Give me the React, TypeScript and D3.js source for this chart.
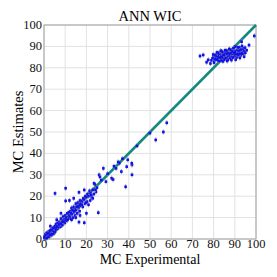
import React from "react";
import * as d3 from "d3";

const title = "ANN WIC";
const xLabel = "MC Experimental";
const yLabel = "MC Estimates";
const ticks = [0, 10, 20, 30, 40, 50, 60, 70, 80, 90, 100];
const errorHalf = 1.2;

const lowPoints: [number, number][] = [
  [0.2,0.5],[0.3,1.2],[0.5,0.3],[0.6,2.0],[0.8,1.0],[1.0,0.6],[1.0,2.5],[1.2,1.5],[1.4,0.8],[1.5,3.0],[1.7,2.2],[1.8,1.2],[2.0,2.8],[2.1,1.8],[2.3,3.5],[2.5,2.3],[2.6,1.5],[2.8,3.0],[3.0,4.0],[3.1,2.5],[3.3,3.2],[3.5,1.8],[3.6,4.5],[3.8,3.0],[4.0,2.8],[4.1,5.0],[4.3,3.8],[4.5,4.2],[4.7,2.5],[4.8,5.5],[5.0,4.0],[5.2,6.0],[5.3,3.5],[5.5,5.0],[5.7,7.0],[5.8,4.3],[6.0,6.2],[6.2,5.0],[6.4,7.5],[6.5,4.8],[6.8,6.5],[7.0,5.5],[7.2,8.0],[7.4,6.2],[7.5,7.0],[7.8,5.8],[8.0,9.5],[8.2,7.3],[8.5,8.0],[8.7,6.5],[9.0,10.5],[9.2,8.5],[9.5,9.0],[9.8,7.5],[10.0,11.0],[10.2,9.0],[10.5,10.0],[10.8,8.5],[11.0,12.0],[11.3,10.0],[11.5,9.5],[11.8,12.5],[12.0,11.0],[12.3,10.5],[12.5,13.0],[12.8,9.5],[13.0,14.5],[13.2,11.5],[13.5,13.5],[13.7,10.0],[14.0,15.0],[14.2,12.5],[14.5,14.0],[14.7,11.0],[15.0,16.5],[15.2,13.5],[15.5,15.0],[15.7,12.0],[16.0,17.0],[16.3,14.5],[16.5,16.0],[16.8,13.0],[17.0,18.0],[17.3,15.5],[17.5,16.5],[18.0,17.5],[18.3,15.0],[18.5,19.0],[19.0,18.5],[19.3,16.5],[19.5,20.0],[20.0,19.5],[20.3,17.5],[20.5,21.0],[21.0,20.0],[21.5,22.5],[21.8,18.0],[22.0,21.5],[22.5,19.5],[23.0,23.0],[23.5,21.0],[24.0,25.5],[24.5,22.0],[25.0,24.0],
  [5.2,21.3],[10.2,23.7],[10.2,17.8],[16.5,21.8],[19,22.9],[16.5,7.9],[19,7.6],[25.6,12.3],[38.5,24.4],[35.5,35.4],[39,33.8],[39.5,37],[36.5,31.5],[41.5,34.6],[41.5,30],[41.4,35.4],[28,33],[26,30],[26.4,29],[29.2,26.8],[31.9,28.4],[32.6,27.8],[23.6,26],[27,27.5],[30,30.5],[33,34],[35,36],[34,33],[37,37.5],[43.9,43.5],[50,49.5],[52.7,46.3],[56.3,50],[57.9,54.3],[12,18],[14,19],[8,12],[6,9],[3,6],[13,9],[15,10],[17,11],[21,16],[23,19],[20,12],
  [0.4,0.9],[0.9,1.8],[1.3,0.4],[1.9,2.6],[2.4,1.0],[2.9,2.0],[3.4,4.2],[3.9,2.2],[4.4,5.2],[4.9,3.2],[6.3,5.8],[7.1,6.8],[7.9,7.2],[9.4,8.0],[11.1,9.0],[12.7,12.0],[14.3,13.0],[16.1,15.2],[17.8,16.0],[19.8,17.0],[22.3,20.5],[24.3,23.0]
];

const highPoints: [number, number][] = [
  [78.5,82.0],[79,83.5],[79.5,84.5],[80,85],[80.3,83.2],[80.8,86],[81,84.5],[81.3,85.5],[81.5,83.8],[81.8,86.5],[82,85],[82.2,84],[82.5,87],[82.7,85.8],[83,84.5],[83.2,86.2],[83.5,83.5],[83.7,87.5],[84,85.5],[84.2,84.2],[84.5,86.8],[84.7,85],[85,83.8],[85.2,87.2],[85.5,85.8],[85.7,84.5],[86,86.5],[86.2,88],[86.5,85],[86.7,83.8],[87,87],[87.2,85.5],[87.5,86.2],[87.7,84.5],[88,88],[88.2,85.8],[88.5,87],[88.7,84.8],[89,86.5],[89.2,88.5],[89.5,85.5],[89.7,87.5],[90,86],[90.2,89.9],[90.5,84.8],[90.7,88],[91,86.8],[91.2,85.5],[91.5,88.5],[91.7,87],[92,86],[92.2,89.5],[92.5,87.8],[92.8,85.8],[93,88.5],[93.2,92.2],[93.5,87],[93.8,89],[94,86.5],[94.3,88],[94.8,89.4],[95,87],[96.7,90.6],[99.2,94.9],[73.6,85.5],[75.1,86],[76.7,82.6],[77.5,83.7],[83,86],[84,87.5],[85,86.5],[86,84.5],[87,85.8],[88,86.8],[89,84.8],[90,87.5],[91,85],[92,88],[83.5,85],[85.5,87],[87.5,88.5],[89.5,86.8],[91.5,86.2],
  [79.8,86.2],[80.6,84.0],[81.6,87.2],[82.4,83.2],[83.4,88.0],[84.4,83.0],[85.4,88.2],[86.4,83.2],[87.4,88.8],[88.4,83.6],[89.4,89.2],[90.4,83.8],[91.4,89.6],[92.4,84.6],[93.4,90.2],[94.4,85.2],[84.8,86.0],[86.8,86.8],[88.8,87.6],[90.8,86.4],[92.6,86.6],[82.8,84.8],[80.2,82.4],[95.6,88.2]
];

const diagonal: [number, number][] = [[0, 0], [100, 100]];

export default function App() {
  const x = d3.scaleLinear().domain([0, 100]).range([44, 256]);
  const y = d3.scaleLinear().domain([0, 100]).range([239, 25]);
  const line = d3.line<[number, number]>().x(d => x(d[0])).y(d => y(d[1]));
  const pts = [...lowPoints, ...highPoints];
  const font = "'Liberation Serif', 'Times New Roman', serif";
  return (
    <svg width={277} height={277} style={{ position: "absolute", left: 0, top: 0, background: "#fff" }} fontFamily={font}>
      {ticks.map(t => (
        <g key={"g" + t}>
          <line x1={x(t)} x2={x(t)} y1={y(0)} y2={y(100)} stroke="#e2e2e2" strokeWidth={1} />
          <line x1={x(0)} x2={x(100)} y1={y(t)} y2={y(t)} stroke="#e2e2e2" strokeWidth={1} />
        </g>
      ))}
      <rect x={x(0)} y={y(100)} width={x(100) - x(0)} height={y(0) - y(100)} fill="none" stroke="#a0a0a0" strokeWidth={1} />
      <path d={line(diagonal) || ""} stroke="#13897f" strokeWidth={2.5} fill="none" />
      {pts.map((p, i) => (
        <g key={"p" + i}>
          <line x1={x(p[0])} x2={x(p[0])} y1={y(p[1] - errorHalf)} y2={y(p[1] + errorHalf)} stroke="#888" strokeWidth={0.8} />
          <rect x={x(p[0]) - 1.3} y={y(p[1]) - 1.3} width={2.6} height={2.6} fill="#1010ee" />
        </g>
      ))}
      {ticks.map(t => (
        <text key={"xt" + t} x={x(t)} y={248} textAnchor="middle" fontSize={12.5} fill="#111">{t}</text>
      ))}
      {ticks.map(t => (
        <text key={"yt" + t} x={42} y={y(t) + 4} textAnchor="end" fontSize={12.5} fill="#111">{t}</text>
      ))}
      <text x={150} y={21} textAnchor="middle" fontSize={14.5} fill="#000">{title}</text>
      <text x={150} y={264} textAnchor="middle" fontSize={14} fill="#000">{xLabel}</text>
      <text transform={`translate(23,132) rotate(-90)`} textAnchor="middle" fontSize={14.5} fill="#000">{yLabel}</text>
    </svg>
  );
}
